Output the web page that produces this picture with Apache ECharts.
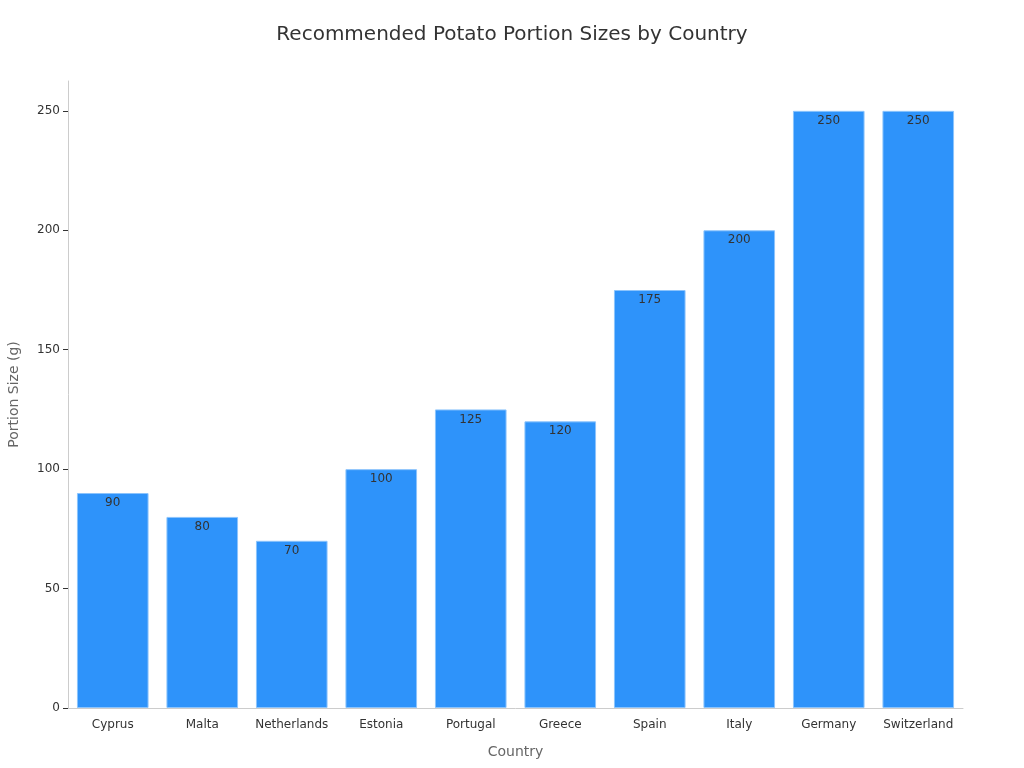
<!DOCTYPE html>
<html>
<head>
<meta charset="utf-8">
<title>Recommended Potato Portion Sizes by Country</title>
<script src="https://cdn.jsdelivr.net/npm/echarts@6/dist/echarts.min.js"></script>
<style>
  html, body { margin: 0; padding: 0; background: #fff; }
  #main { width: 1024px; height: 768px; }
</style>
</head>
<body>
<div id="main"></div>
<script>
// data
var countries = ['Cyprus', 'Malta', 'Netherlands', 'Estonia', 'Portugal', 'Greece', 'Spain', 'Italy', 'Germany', 'Switzerland'];
var portionSizes = [90, 80, 70, 100, 125, 120, 175, 200, 250, 250];
var yTicks = [0, 50, 100, 150, 200, 250];

var myChart = echarts.init(document.getElementById('main'));
var option = {
    backgroundColor: '#ffffff',
    textStyle: { fontFamily: 'DejaVu Sans' },
    title: {
        text: 'Recommended Potato Portion Sizes by Country',
        left: 'center',
        top: 20,
        textStyle: { fontSize: 20, fontWeight: 'normal', color: '#333', fontFamily: 'DejaVu Sans' }
    },
    grid: { left: 68, right: 61, top: 81, bottom: 60, containLabel: false, outerBoundsMode: 'none' },
    xAxis: {
        type: 'category',
        data: countries,
        name: 'Country',
        nameLocation: 'middle',
        nameGap: 37,
        nameTextStyle: { fontSize: 14, color: '#666' },
        axisLine: { lineStyle: { color: '#ccc' } },
        axisTick: { alignWithLabel: true, interval: 0, length: 5, lineStyle: { color: '#888' } },
        axisLabel: { interval: 0, fontSize: 12, color: '#333', margin: 11 }
    },
    yAxis: {
        type: 'value',
        min: 0,
        max: 262.5,
        interval: 50,
        name: 'Portion Size (g)',
        nameLocation: 'middle',
        nameGap: 47,
        nameTextStyle: { fontSize: 14, color: '#666' },
        axisLine: { show: true, lineStyle: { color: '#ccc' } },
        axisTick: { show: true, length: 5, lineStyle: { color: '#333' }, customValues: yTicks },
        axisLabel: { fontSize: 12, color: '#333', customValues: yTicks },
        splitLine: { show: false }
    },
    series: [{
        type: 'bar',
        data: portionSizes,
        barCategoryGap: '20%',
        itemStyle: { color: '#2E93FA', borderColor: '#8cc4fc', borderWidth: 1 },
        label: {
            show: true,
            position: 'insideTop',
            distance: 4,
            fontSize: 12,
            color: '#333'
        }
    }]
};
myChart.setOption(option);
</script>
</body>
</html>
